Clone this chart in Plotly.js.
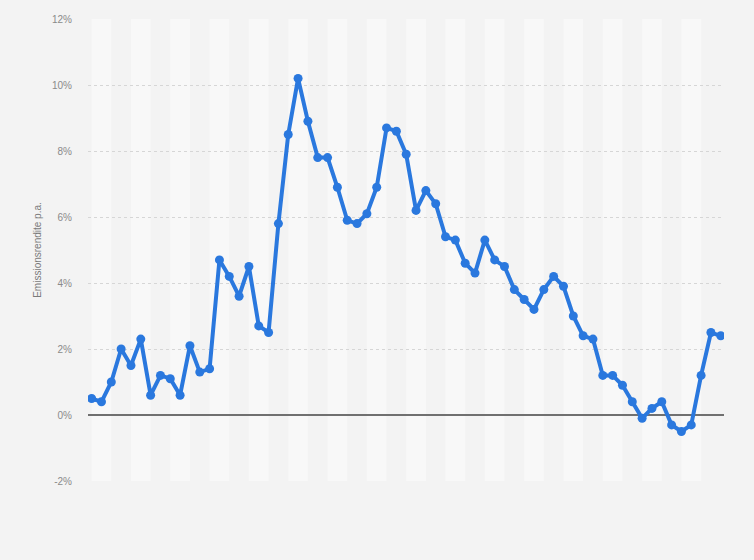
<!DOCTYPE html>
<html>
<head>
<meta charset="utf-8">
<script src="https://cdn.plot.ly/plotly-3.0.1.min.js"></script>
<style>
html,body{margin:0;padding:0;background:#f3f3f3;}
#chart{width:754px;height:560px;}
</style>
</head>
<body>
<div id="chart"></div>
<script>
// Data
var years = [];
for (var y = 1960; y <= 2024; y++) years.push(y);
var yields = [
  0.5, 0.4, 1.0, 2.0, 1.5, 2.3, 0.6, 1.2, 1.1, 0.6,
  2.1, 1.3, 1.4, 4.7, 4.2, 3.6, 4.5, 2.7, 2.5, 5.8,
  8.5, 10.2, 8.9, 7.8, 7.8, 6.9, 5.9, 5.8, 6.1, 6.9,
  8.7, 8.6, 7.9, 6.2, 6.8, 6.4, 5.4, 5.3, 4.6, 4.3,
  5.3, 4.7, 4.5, 3.8, 3.5, 3.2, 3.8, 4.2, 3.9, 3.0,
  2.4, 2.3, 1.2, 1.2, 0.9, 0.4, -0.1, 0.2, 0.4, -0.3,
  -0.5, -0.3, 1.2, 2.5, 2.4
];
var yTickVals = [-2, 0, 2, 4, 6, 8, 10, 12];
var yTickText = ['-2%', '0%', '2%', '4%', '6%', '8%', '10%', '12%'];
var yTitle = 'Emissionsrendite p.a.';

// alternating background bands, two years wide
var lastYear = years[years.length - 1];
var shapes = [];
for (var i = 0; i + 2 <= years.length - 1; i += 4) {
  shapes.push({
    type: 'rect', layer: 'below', xref: 'x', yref: 'paper',
    x0: years[i], x1: Math.min(years[i] + 2, lastYear), y0: 0, y1: 1,
    fillcolor: '#f8f8f8', line: {width: 0}
  });
}

var trace = {
  x: years, y: yields, type: 'scatter', mode: 'lines+markers',
  line: {color: '#2a78de', width: 4},
  marker: {color: '#2a78de', size: 9},
  hoverinfo: 'x+y'
};

var layout = {
  width: 754, height: 560,
  paper_bgcolor: '#f3f3f3', plot_bgcolor: '#f3f3f3',
  margin: {l: 88, r: 30, t: 19, b: 79},
  showlegend: false,
  font: {family: 'Liberation Sans, Arial, sans-serif', color: '#888'},
  xaxis: {
    range: [years[0] - 0.37, lastYear + 0.33],
    showgrid: false, zeroline: false, showticklabels: false,
    ticks: '', showline: false, fixedrange: true
  },
  yaxis: {
    range: [-2, 12], tickvals: yTickVals, ticktext: yTickText,
    showgrid: true, gridcolor: '#d6d6d6', griddash: 'dot', gridwidth: 1,
    zeroline: true, zerolinecolor: '#707070', zerolinewidth: 1.6,
    showline: false, ticks: '',
    tickfont: {size: 10, color: '#8a8a8a'}, ticklabelstandoff: 15,
    title: {text: yTitle, font: {size: 10, color: '#7a7a7a'}, standoff: 8},
    fixedrange: true
  },
  shapes: shapes
};

Plotly.newPlot('chart', [trace], layout, {displayModeBar: false, staticPlot: true});
</script>
</body>
</html>
